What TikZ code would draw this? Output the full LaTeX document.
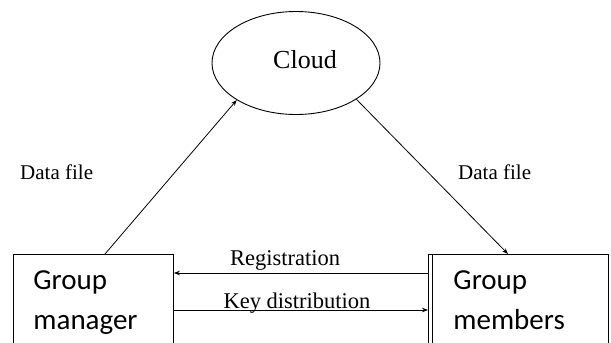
\documentclass[tikz,border=0pt]{standalone}
\usepackage{fontspec}
\setmainfont{Liberation Serif}
\newfontfamily\boxfont{Carlito}
\usetikzlibrary{arrows.meta,shapes.geometric}

\tikzset{
  party/.style={draw, line width=0.9pt, minimum height=97pt, anchor=north west,
    align=left, inner ysep=0pt, font=\boxfont\fontsize{29}{40}\selectfont},
  lbl/.style={font=\fontsize{21}{25}\selectfont, inner sep=0pt},
  arr/.style={line width=0.8pt, -{Stealth[length=6pt,width=4.5pt]}}
}

\begin{document}
\begin{tikzpicture}[x=1pt,y=-1pt]
\useasboundingbox (0,0) rectangle (611,343);

% cloud on top
\node (cloud) [draw, ellipse, line width=0.9pt, minimum width=168pt, minimum height=103pt]
  at (296,63) {};
\node (cloudtxt) [lbl, font=\fontsize{26}{30}\selectfont, anchor=base] at (305,68) {Cloud};

% the two parties
\node (mgr) [party, inner xsep=20pt, text width=120pt] at (13,254) {Group\\manager};
\node (mem) [party, inner xsep=25pt, text width=130pt] at (428,254) {Group\\members\vphantom{g}};
\draw [line width=0.9pt] ([xshift=4pt]mem.north west) -- ([xshift=4pt]mem.south west);

% data file flow
\draw [arr] ([xshift=92pt]mgr.north west) -- (cloud.212);
\draw [arr] (cloud.-31) -- ([xshift=80pt]mem.north west);
\node (dfl) [lbl, anchor=base west] at (20,179) {Data file};
\node (dfr) [lbl, anchor=base west] at (458,179) {Data file};

% registration and keys
\draw [arr] (mem.west |- 0,273) -- (mgr.east |- 0,273);
\draw [arr] (mgr.east |- 0,310) -- (mem.west |- 0,310);
\node (reg) [lbl, font=\fontsize{22.5}{26}\selectfont, anchor=base] at (285,265) {Registration};
\node (key) [lbl, font=\fontsize{22.5}{26}\selectfont, anchor=base] at (297,308) {Key distribution};
\end{tikzpicture}
\end{document}
